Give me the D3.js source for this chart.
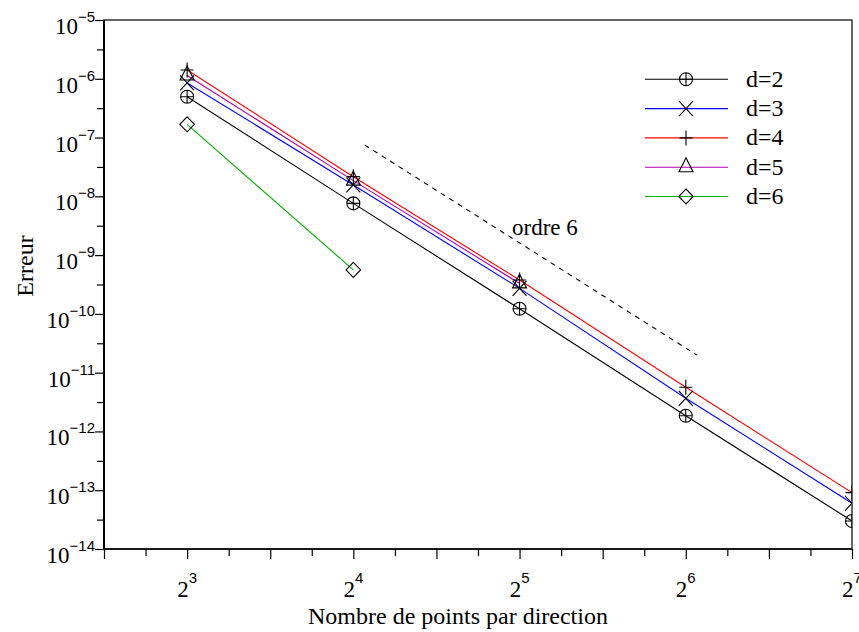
<!DOCTYPE html>
<html>
<head>
<meta charset="utf-8">
<script src="https://cdn.jsdelivr.net/npm/d3@7"></script>
<style>
  body { margin: 0; background: #fff; }
  svg { display: block; }
  text { font-family: "Liberation Serif", "Times New Roman", serif; fill: #000; }
</style>
</head>
<body>
<svg></svg>
<script>
// points per direction
const nPoints = [8, 16, 32, 64, 128];

// error per dimension
const errD2 = [4.96e-7, 7.6e-9, 1.22e-10, 1.85e-12, 3.0e-14];
const errD3 = [8.5e-7, 1.56e-8, 2.72e-10, 3.66e-12, 6.0e-14];
const errD4 = [1.41e-6, 2.16e-8, 3.77e-10, 5.64e-12, 9.1e-14];
const errD5 = [1.14e-6, 1.85e-8, 3.3e-10];
const errD6 = [1.68e-7, 5.6e-10];

const seriesNames = ['d=2', 'd=3', 'd=4', 'd=5', 'd=6'];
const seriesColors = ['#000000', '#0000ff', '#ff0000', '#b000b0', '#00b000'];
const seriesMarkers = ['oplus', 'cross', 'plus', 'triangle', 'diamond'];
const seriesValues = [errD2, errD3, errD4, errD5, errD6];

// reference slope line (order 6)
const refX = [16.78, 67.0];
const refY = [7.47e-8, 2.0e-11];
const refLabel = 'ordre 6';

const yTickExp = [-5, -6, -7, -8, -9, -10, -11, -12, -13, -14];
const xTickExp = [3, 4, 5, 6, 7];

const size = {w: 859, h: 632};
const margin = {t: 20, r: 7, b: 83, l: 104};
const svg = d3.select('svg')
    .attr('width', size.w)
    .attr('height', size.h);

const x = d3.scaleLog().base(2)
    .domain([Math.pow(2, 2.5), Math.pow(2, 7)])
    .range([margin.l, size.w - margin.r]);
const y = d3.scaleLog()
    .domain([1e-5, 1e-14])
    .range([margin.t, size.h - margin.b]);

const x0 = x.range()[0], x1 = x.range()[1];
const y0 = y.range()[0], y1 = y.range()[1];

svg.append('clipPath').attr('id', 'plotclip')
  .append('rect')
    .attr('x', x0).attr('y', y0 - 20)
    .attr('width', x1 - x0).attr('height', y1 - y0 + 20);

// frame
svg.append('rect')
    .attr('x', x0).attr('y', y0)
    .attr('width', x1 - x0).attr('height', y1 - y0)
    .attr('fill', 'none')
    .attr('stroke', '#000')
    .attr('stroke-width', 1.2);

// x axis ticks: long every half octave, short at quarters
const xMajor = d3.range(2.5, 7.01, 0.5).map(e => Math.pow(2, e));
const xMinor = d3.range(2.75, 7, 0.5).map(e => Math.pow(2, e));
const yMajor = yTickExp.map(e => Math.pow(10, e));
const yMinor = d3.range(-5.5, -14, -1).map(e => Math.pow(10, e));

function tickG(axis, tr) {
  const g = svg.append('g').attr('transform', tr).call(axis);
  g.select('.domain').remove();
  g.selectAll('line').attr('stroke', '#000').attr('stroke-width', 1.2);
  g.selectAll('text').remove();
  return g;
}
tickG(d3.axisBottom(x).tickValues(xMajor).tickSize(10), `translate(0,${y1})`);
tickG(d3.axisBottom(x).tickValues(xMinor).tickSize(7), `translate(0,${y1})`);
tickG(d3.axisLeft(y).tickValues(yMajor).tickSize(9), `translate(${x0},0)`);
tickG(d3.axisLeft(y).tickValues(yMinor).tickSize(7), `translate(${x0},0)`);

// redraw axis lines thicker on left and bottom
svg.append('line').attr('x1', x0).attr('x2', x0).attr('y1', y0).attr('y2', y1)
    .attr('stroke', '#000').attr('stroke-width', 2);
svg.append('line').attr('x1', x0).attr('x2', x1).attr('y1', y1).attr('y2', y1)
    .attr('stroke', '#000').attr('stroke-width', 1.6);

// tick labels with superscripts
const yLab = svg.append('g').selectAll('text')
    .data(yTickExp)
    .join('text')
    .attr('x', x0 - 9)
    .attr('y', d => y(Math.pow(10, d)) + 14)
    .attr('text-anchor', 'end')
    .attr('font-size', 23);
yLab.append('tspan').text('10');
yLab.append('tspan')
    .attr('dy', -12)
    .attr('font-size', 15)
    .attr('font-family', '"Liberation Sans", Arial, sans-serif')
    .text(d => '\u2212' + Math.abs(d));

const xLab = svg.append('g').selectAll('text')
    .data(xTickExp)
    .join('text')
    .attr('x', d => x(Math.pow(2, d)))
    .attr('y', y1 + 48)
    .attr('text-anchor', 'middle')
    .attr('font-size', 23);
xLab.append('tspan').text('2');
xLab.append('tspan')
    .attr('dy', -14)
    .attr('font-size', 15)
    .attr('font-family', '"Liberation Sans", Arial, sans-serif')
    .text(d => d);

// axis titles
svg.append('text')
    .attr('x', 458)
    .attr('y', 624)
    .attr('text-anchor', 'middle')
    .attr('font-size', 24)
    .text('Nombre de points par direction');
svg.append('text')
    .attr('transform', 'translate(33,266) rotate(-90)')
    .attr('text-anchor', 'middle')
    .attr('font-size', 24)
    .text('Erreur');

// markers
function markerPath(kind) {
  const p = d3.path();
  if (kind === 'oplus') {
    p.moveTo(6.5, 0); p.arc(0, 0, 6.5, 0, 2 * Math.PI);
    p.moveTo(-6.5, 0); p.lineTo(6.5, 0);
    p.moveTo(0, -6.5); p.lineTo(0, 6.5);
  } else if (kind === 'cross') {
    p.moveTo(-7, -7.5); p.lineTo(7, 7.5);
    p.moveTo(-7, 7.5); p.lineTo(7, -7.5);
  } else if (kind === 'plus') {
    p.moveTo(-6.5, 0); p.lineTo(6.5, 0);
    p.moveTo(0, -7.5); p.lineTo(0, 7.5);
  } else if (kind === 'triangle') {
    p.moveTo(0, -9.5); p.lineTo(7, 4.5); p.lineTo(-7, 4.5); p.closePath();
  } else {
    p.moveTo(0, -7.5); p.lineTo(7.3, 0); p.lineTo(0, 7.5); p.lineTo(-7.3, 0); p.closePath();
  }
  return p.toString();
}

const line = d3.line()
    .x(d => x(d[0]))
    .y(d => y(d[1]));

const plot = svg.append('g').attr('clip-path', 'url(#plotclip)');

seriesValues.forEach((vals, i) => {
  const pts = vals.map((v, j) => [nPoints[j], v]);
  plot.append('path')
      .attr('d', line(pts))
      .attr('fill', 'none')
      .attr('stroke', seriesColors[i])
      .attr('stroke-width', 1.1);
});
seriesValues.forEach((vals, i) => {
  const pts = vals.map((v, j) => [nPoints[j], v]);
  plot.append('g').selectAll('path')
      .data(pts)
      .join('path')
      .attr('transform', d => `translate(${x(d[0])},${y(d[1])})`)
      .attr('d', markerPath(seriesMarkers[i]))
      .attr('fill', 'none')
      .attr('stroke', '#000')
      .attr('stroke-width', 1.1);
});

// reference line
svg.append('path')
    .attr('d', line(refX.map((v, j) => [v, refY[j]])))
    .attr('fill', 'none')
    .attr('stroke', '#000')
    .attr('stroke-width', 1.1)
    .attr('stroke-dasharray', '5,5');
svg.append('text')
    .attr('x', 512)
    .attr('y', 235)
    .attr('font-size', 23)
    .text(refLabel);

// legend
const legend = svg.append('g');
const row = legend.selectAll('g')
    .data(seriesNames)
    .join('g')
    .attr('transform', (d, i) => `translate(0,${79.3 + i * 29.3})`);
row.append('line')
    .attr('x1', 645).attr('x2', 728)
    .attr('stroke', (d, i) => seriesColors[i])
    .attr('stroke-width', 1.1);
row.append('path')
    .attr('transform', 'translate(686,0)')
    .attr('d', (d, i) => markerPath(seriesMarkers[i]))
    .attr('fill', 'none')
    .attr('stroke', '#000')
    .attr('stroke-width', 1.1);
row.append('text')
    .attr('x', 746)
    .attr('y', 7.5)
    .attr('font-size', 24)
    .text(d => d);
</script>
</body>
</html>
